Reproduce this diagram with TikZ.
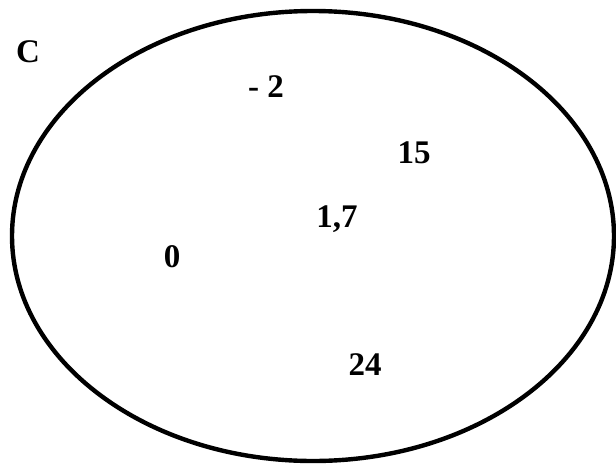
\documentclass[tikz,border=0pt]{standalone}
\usepackage{fontspec}
\setmainfont{Liberation Serif}
\begin{document}
\begin{tikzpicture}[x=1pt,y=-1pt,
  lbl/.style={font=\fontsize{33}{38}\selectfont\bfseries, anchor=base, inner sep=0pt}]
\useasboundingbox (0,0) rectangle (616,464);
\draw[line width=4.4pt] (313,236) ellipse [x radius=301, y radius=225];
\node[lbl] (c) at (28,62) {C};
\node[lbl] (m2) at (266,97) {- 2};
\node[lbl] (n15) at (414,163) {15};
\node[lbl] (n17) at (337,227) {1,7};
\node[lbl] (n0) at (172,267) {0};
\node[lbl] (n24) at (365,375) {24};
\end{tikzpicture}
\end{document}
